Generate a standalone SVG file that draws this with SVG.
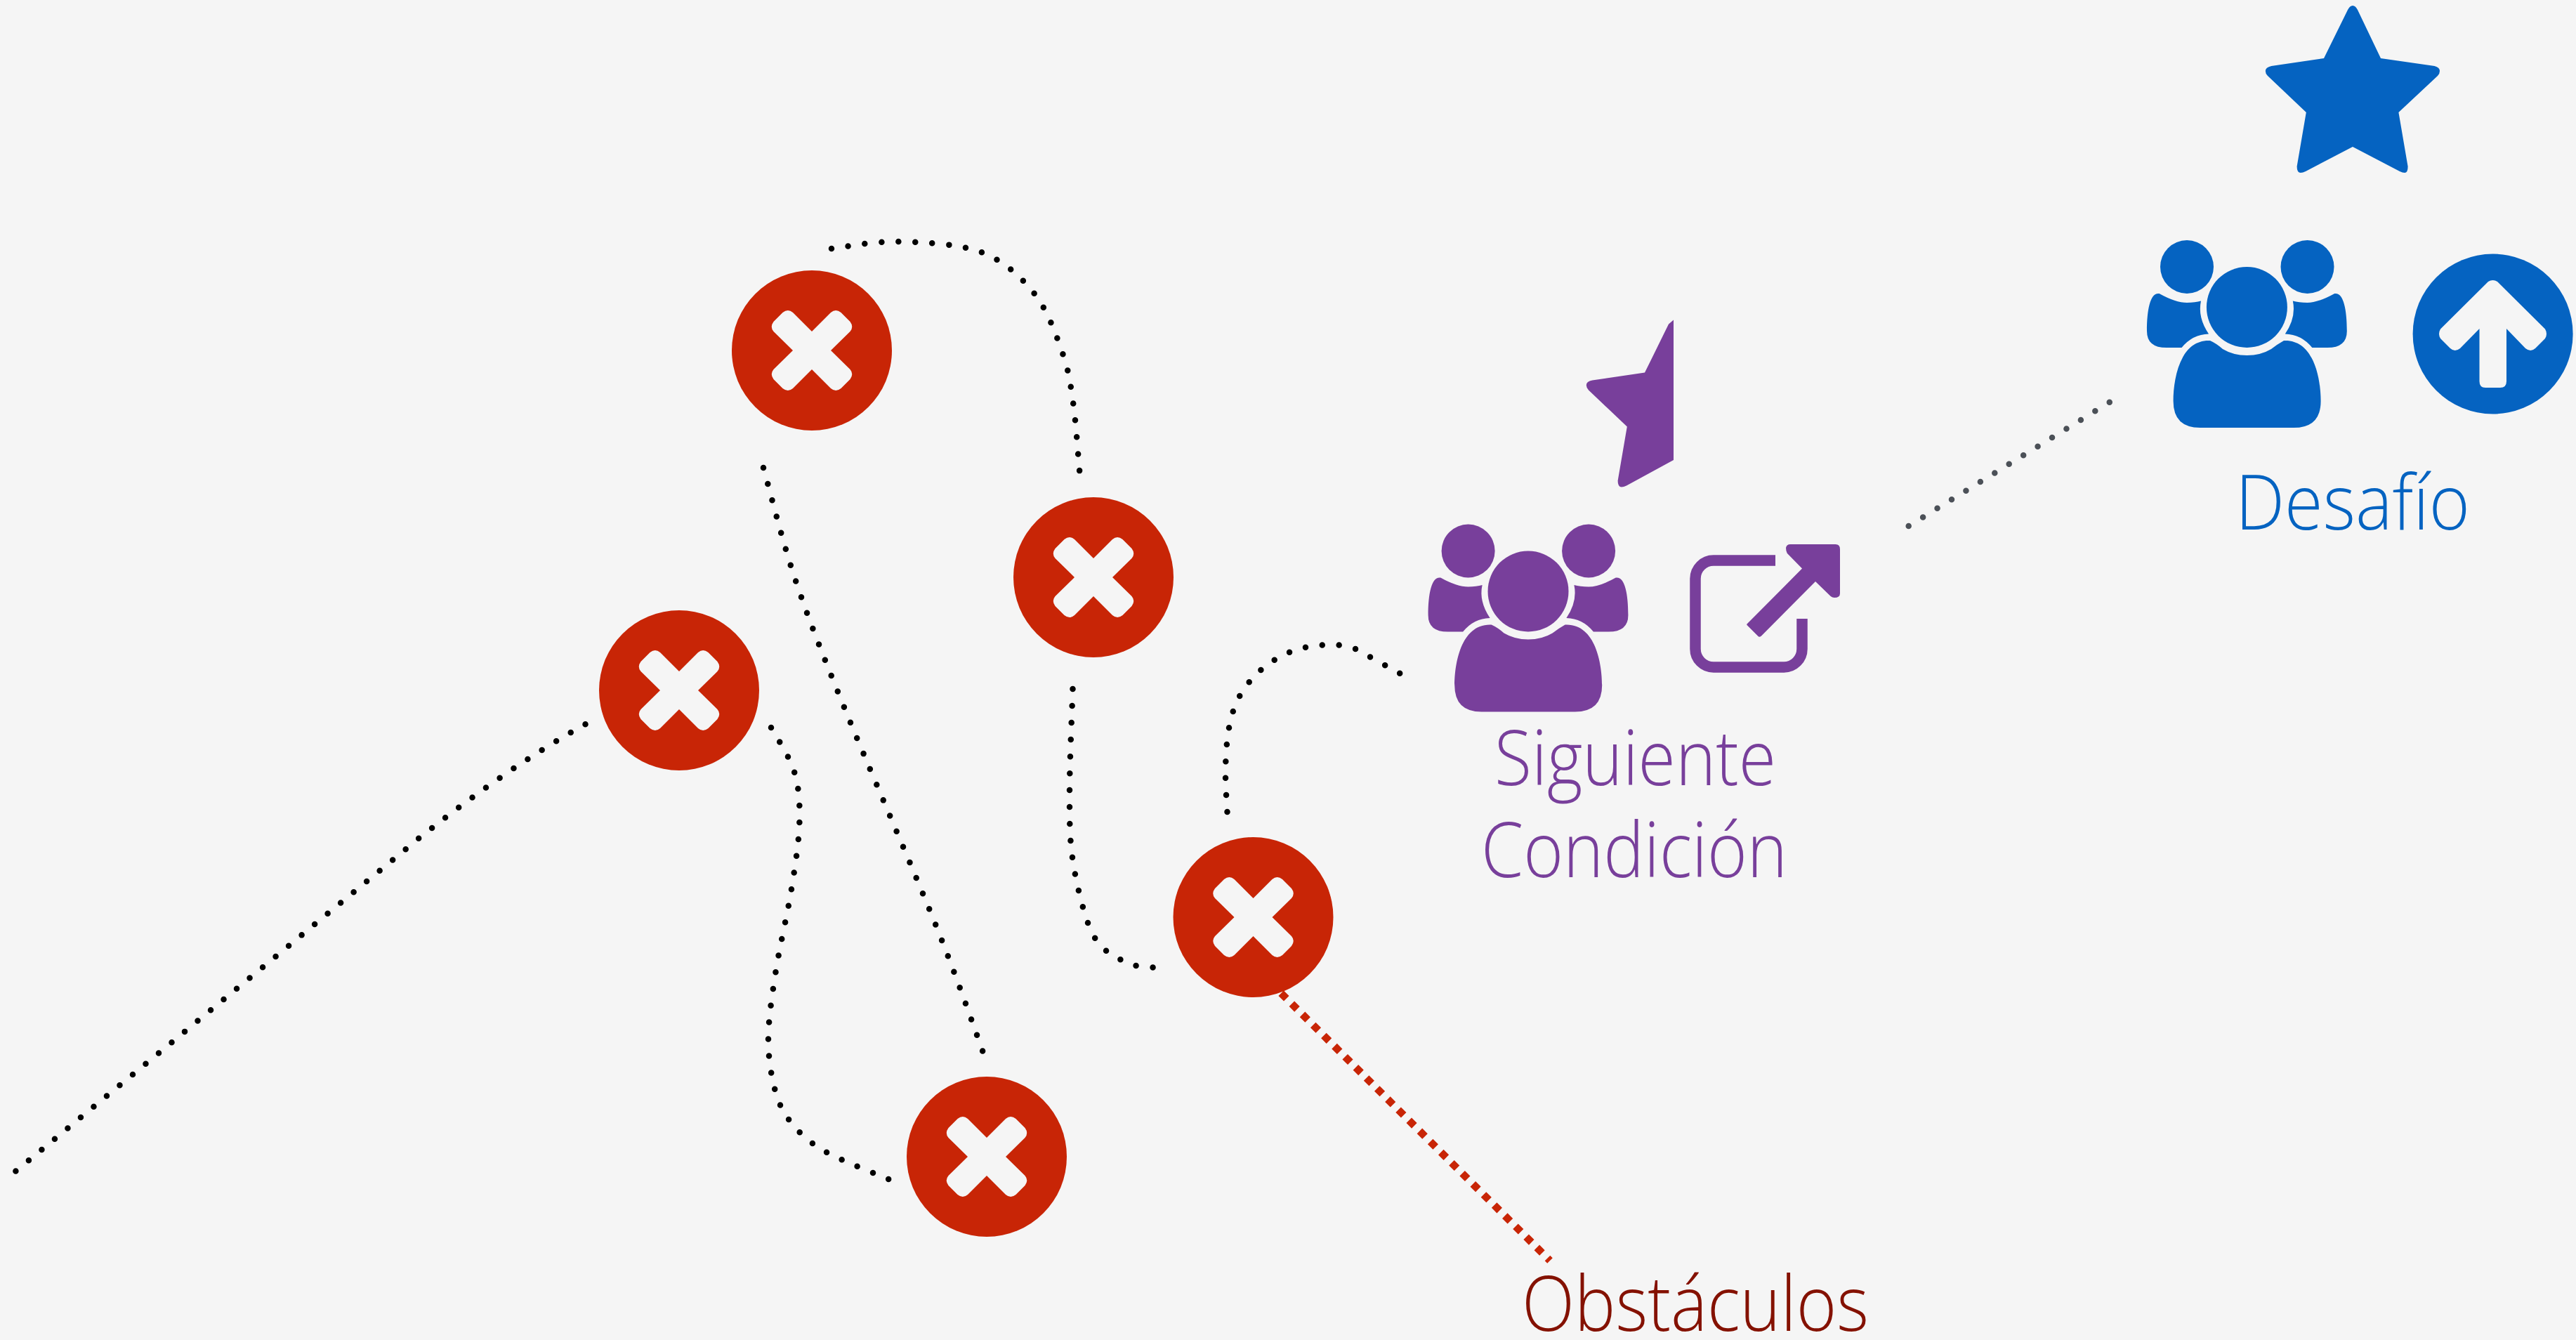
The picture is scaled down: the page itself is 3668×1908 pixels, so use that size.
<svg xmlns="http://www.w3.org/2000/svg" xmlns:xlink="http://www.w3.org/1999/xlink" width="3668" height="1908" viewBox="0 0 3668 1908">
<style>
.dot{fill:none;stroke:#000;stroke-width:8.5;stroke-linecap:round;stroke-dasharray:0 24}
.gray{stroke:#4B5057}
.red{fill:none;stroke:#C82506;stroke-width:10.7;stroke-dasharray:10.7 10.7}
.bad{fill:#C82506}
.x{fill:#F5F5F5}
.lbl{font-family:"Open Sans","Liberation Sans",sans-serif;font-weight:300;font-size:108px}
</style>
<defs>
<g id="bad">
<circle r="114"/>
<path class="x" d="M0 -27L27 -54Q34 -60 41.5 -54L54.5 -41Q60 -33.5 54.5 -27L27 0L54.5 27Q60 33.5 54.5 41L41.5 54Q34 60 27 54L0 27L-27 54Q-34 60 -41.5 54L-54.5 41Q-60 33.5 -54.5 27L-27 0L-54.5 -27Q-60 -33.5 -54.5 -41L-41.5 -54Q-34 -60 -27 -54Z"/>
</g>
<g id="people">
<circle cx="3114" cy="380" r="38"/>
<circle cx="3285.5" cy="380" r="38"/>
<circle cx="3199.4" cy="437.5" r="57.5"/>
<path d="M3147 485Q3156 489 3165 497Q3180 506 3199.4 506Q3219 506 3234 497Q3243 490 3252 485C3295 483 3304.6 540 3304.6 571Q3304.6 609 3266 609H3133Q3094.6 609 3094.6 571C3094.6 540 3104 483 3147 485Z"/>
<path d="M3074.6 418Q3098 431 3114 431Q3126 431 3134 428.6Q3129 452 3145 475.5Q3122 476 3106.5 495H3085Q3057 495 3057 471.4C3057 440 3062 416 3074.6 418Z"/>
<path d="M3324.2 418Q3300.8 431 3285.4 431Q3273 431 3264.8 428.6Q3269.8 452 3253.8 475.5Q3276.8 476 3292.3 495H3313.8Q3341.8 495 3341.8 471.4C3341.8 440 3336.8 416 3324.2 418Z"/>
</g>
</defs>
<rect width="3668" height="1908" fill="#F5F5F5"/>
<g id="connectors">
<path class="dot" d="M22.4 1667.5L596 1194C680 1127 760 1072 834 1031"/>
<path class="dot" d="M1098 1036C1103.5 1046.5 1124.3 1076.7 1131 1099C1137.7 1121.3 1139 1142 1138.4 1170C1137.7 1197.8 1132.7 1230.3 1127 1266C1121.3 1301.7 1110 1348.5 1104.5 1384C1099 1419.5 1094.2 1451.3 1094 1479C1093.8 1506.7 1098.2 1530.8 1103 1550C1107.8 1569.2 1114 1581 1123 1594C1132 1607 1144.5 1618.5 1157 1628C1169.5 1637.5 1180 1642.5 1198 1651C1216 1659.5 1254 1674 1265 1679L1271 1681.5"/>
<path class="dot" d="M1087 666C1094.7 692.8 1113.8 770.2 1133 827C1152.2 883.8 1168.8 925.5 1202 1007C1235.2 1088.5 1299.2 1234.5 1332 1316C1364.8 1397.5 1388 1466 1399 1496L1401 1502"/>
<path class="dot" d="M1184 354C1199.8 352.3 1243.5 343.2 1279 344C1314.5 344.8 1364.8 346.8 1397 359C1429.2 371.2 1452.7 393 1472 417C1491.3 441 1503.7 476.3 1513 503C1522.3 529.7 1524 545.3 1528 573C1532 600.7 1535.5 653 1537 669L1537.6 675"/>
<path class="dot" d="M1527.5 981C1526.8 1005 1523 1085 1523 1125C1523 1165 1522.7 1189.5 1527 1221C1531.3 1252.5 1541 1292 1549 1314C1557 1336 1563.7 1343.4 1575 1353.6C1586.3 1363.8 1606 1371 1617 1375C1621 1375.4 1637 1377 1641 1377.5L1647 1378"/>
<path class="dot" d="M1747.5 1156C1747 1146 1744.6 1115.9 1745 1096C1745.4 1076.1 1746.7 1053.8 1750 1036.4C1753.3 1019 1757.5 1005.1 1765 991.4C1772.5 977.7 1783.2 964.7 1795 954.3C1806.8 943.9 1821.1 935 1835.7 929C1850.3 923 1866.8 919.4 1882.5 918.6C1898.2 917.8 1911.6 917.3 1930 924C1940.5 930 1983 953 1993 958.6L1998 961.5"/>
<path class="dot gray" d="M2717.7 749L3009 569.5"/>
<path class="red" d="M1824.2 1414.2L2207 1795"/>
</g>
<g id="obstacle-1" class="bad"><use href="#bad" x="1156" y="499"/></g>
<g id="obstacle-2" class="bad"><use href="#bad" x="1557" y="822"/></g>
<g id="obstacle-3" class="bad"><use href="#bad" x="967" y="983"/></g>
<g id="obstacle-4" class="bad"><use href="#bad" x="1784.5" y="1306"/></g>
<g id="obstacle-5" class="bad"><use href="#bad" x="1405" y="1647"/></g>
<g id="next-condition" fill="#783F9B">
<path d="M2383 455.6L2376 461.6L2342 530.6L2267.3 541.6Q2258.8 543 2258.8 548.6Q2258.8 552 2262 555.6L2316.8 607.6L2303.6 684.6Q2303.6 693.6 2309 693.6Q2312 693.6 2316 691.6L2383 655Z"/>
<use href="#people" x="-1023.4" y="404.5"/>
<path d="M2528 798H2440a26 26 0 0 0 -26 26V924a26 26 0 0 0 26 26H2540a26 26 0 0 0 26 -26V881" fill="none" stroke="#783F9B" stroke-width="15.5"/>
<path d="M2549.3 775H2613.6Q2620 775 2620 782V845Q2620 851 2612 851Q2609 851 2606.7 849L2585 828L2508 905.6Q2505 908 2503 905.6L2488 890.5Q2486.5 889 2488 888L2566 809.5L2544.7 787.7Q2543 785 2543 780Q2544 775 2549.3 775Z"/>
<text class="lbl" x="2128" y="1118" textLength="401" lengthAdjust="spacingAndGlyphs">Siguiente</text>
<text class="lbl" x="2109" y="1249" textLength="436" lengthAdjust="spacingAndGlyphs">Condición</text>
</g>
<g id="challenge" fill="#0563C1">
<path d="M3350 8Q3354 8 3357 14L3390 83L3466.5 94Q3474 96 3474 101Q3474 105 3471 108L3415.4 160L3428.6 237Q3428.6 246 3424 246Q3421 246 3417 244L3350 209L3283 244Q3279 246 3276 246Q3270.6 246 3270.6 237L3283.8 160L3229 108Q3225.8 105 3225.8 101Q3225.8 96 3234.3 94L3309 83L3343 14Q3346 8 3350 8Z"/>
<use href="#people"/>
<circle cx="3549.6" cy="475.5" r="114"/>
<path fill="#F5F5F5" d="M3549.6 399Q3546 399 3543 401L3475 468.6Q3471 475.5 3475 482L3489 496Q3495.5 502 3503 496L3530.5 468V543Q3530.5 552 3539 552H3560Q3569 552 3569 543V468L3596 496Q3603.5 502 3610 496L3624 482Q3628 475.5 3624 468.6L3556 401Q3553 399 3549.6 399Z"/>
<text class="lbl" x="3183" y="754" textLength="334" lengthAdjust="spacingAndGlyphs">Desafío</text>
</g>
<g id="obstacles-label" fill="#841100">
<text class="lbl" x="2167" y="1895" textLength="494" lengthAdjust="spacingAndGlyphs">Obstáculos</text>
</g>
</svg>
